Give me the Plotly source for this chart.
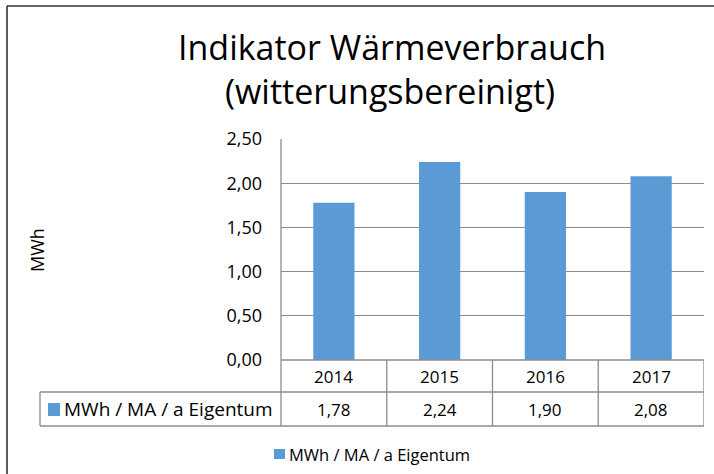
import plotly.graph_objects as go

years = ["2014", "2015", "2016", "2017"]
values = [1.78, 2.24, 1.90, 2.08]
series_name = "MWh / MA / a Eigentum"
title_lines = ["Indikator Wärmeverbrauch", "(witterungsbereinigt)"]
y_label = "MWh"

W, H = 714, 474
FONT = "Open Sans"
BAR = "#5B9BD5"
GRID = "#8C8C8C"

def px(x):
    return x / W

def py(y):
    return 1 - y / H

x0, x1 = 281, 704
y_top, y_bot = 139, 360
row1, row2 = 392, 426
tbl_left = 40

idx = list(range(len(years)))

fig = go.Figure()
fig.add_trace(go.Bar(x=idx, y=values, marker_color=BAR, marker_line_width=0,
                     width=0.39, name=series_name, showlegend=False))

shapes = []
line = dict(color=GRID, width=1.3)
shapes.append(dict(type="line", xref="paper", yref="paper", x0=px(x0), x1=px(x1), y0=py(y_bot), y1=py(y_bot), line=line))
shapes.append(dict(type="line", xref="paper", yref="paper", x0=px(tbl_left), x1=px(x1), y0=py(row1), y1=py(row1), line=line))
shapes.append(dict(type="line", xref="paper", yref="paper", x0=px(tbl_left), x1=px(x1), y0=py(row2), y1=py(row2), line=line))
shapes.append(dict(type="line", xref="paper", yref="paper", x0=px(x0), x1=px(x0), y0=py(y_top), y1=py(row2), line=line))
shapes.append(dict(type="line", xref="paper", yref="paper", x0=px(tbl_left), x1=px(tbl_left), y0=py(row1), y1=py(row2), line=line))
for i in idx:
    shapes.append(dict(type="line", xref="x", yref="paper", x0=i + 0.5, x1=i + 0.5,
                       y0=py(y_bot), y1=py(row2), line=line))
shapes.append(dict(type="rect", xref="paper", yref="paper", x0=px(48), x1=px(60),
                   y0=py(416), y1=py(403), fillcolor=BAR, line=dict(width=0)))
shapes.append(dict(type="rect", xref="paper", yref="paper", x0=px(274), x1=px(285),
                   y0=py(459), y1=py(449), fillcolor=BAR, line=dict(width=0)))
shapes.append(dict(type="line", xref="paper", yref="paper", x0=px(7), x1=px(7), y0=py(6), y1=0, line=dict(color="#333333", width=1.6)))
shapes.append(dict(type="line", xref="paper", yref="paper", x0=px(7), x1=1, y0=py(6), y1=py(6), line=dict(color="#333333", width=1.6)))

def txt(x, y, text, size, xref="paper", xanchor="center", angle=0):
    return dict(x=x, xref=xref, y=y, yref="paper", text=text, xanchor=xanchor, yanchor="middle",
                textangle=angle, showarrow=False, font=dict(family=FONT, size=size, color="#000"))

ann = []
for i, (yr, v) in enumerate(zip(years, values)):
    ann.append(txt(i, py((y_bot + row1) / 2), yr, 17, xref="x"))
    ann.append(txt(i, py((row1 + row2) / 2), f"{v:.2f}".replace(".", ","), 17, xref="x"))
ann.append(txt(px(62), py((row1 + row2) / 2), series_name, 19, xanchor="left"))
ann.append(txt(px(287), py(454), series_name, 16.5, xanchor="left"))
ann.append(txt(px(392), py(47), title_lines[0], 34))
ann.append(txt(px(390), py(91), title_lines[1], 34))
ann.append(txt(px(37), py(250), y_label, 18, angle=-90))

fig.update_layout(
    template="none",
    width=W, height=H, margin=dict(l=0, r=0, t=0, b=0, pad=0), autosize=False,
    paper_bgcolor="white", plot_bgcolor="white",
    separators=",.",
    xaxis=dict(domain=[px(x0), px(x1)], showticklabels=False, showgrid=False, automargin=False,
               zeroline=False, showline=False, ticks="", range=[-0.5, 3.5]),
    yaxis=dict(domain=[py(y_bot), py(y_top)], range=[0, 2.5], dtick=0.5, automargin=False,
               tickformat=".2f", showgrid=True, gridcolor=GRID, gridwidth=1.3,
               zeroline=False, showline=False, ticks="", ticklabelstandoff=18,
               tickfont=dict(family=FONT, size=18, color="#000")),
    shapes=shapes, annotations=ann, showlegend=False,
)
fig.write_html("out.html", config={"displayModeBar": False},
               post_script="document.body.style.margin='0';")
